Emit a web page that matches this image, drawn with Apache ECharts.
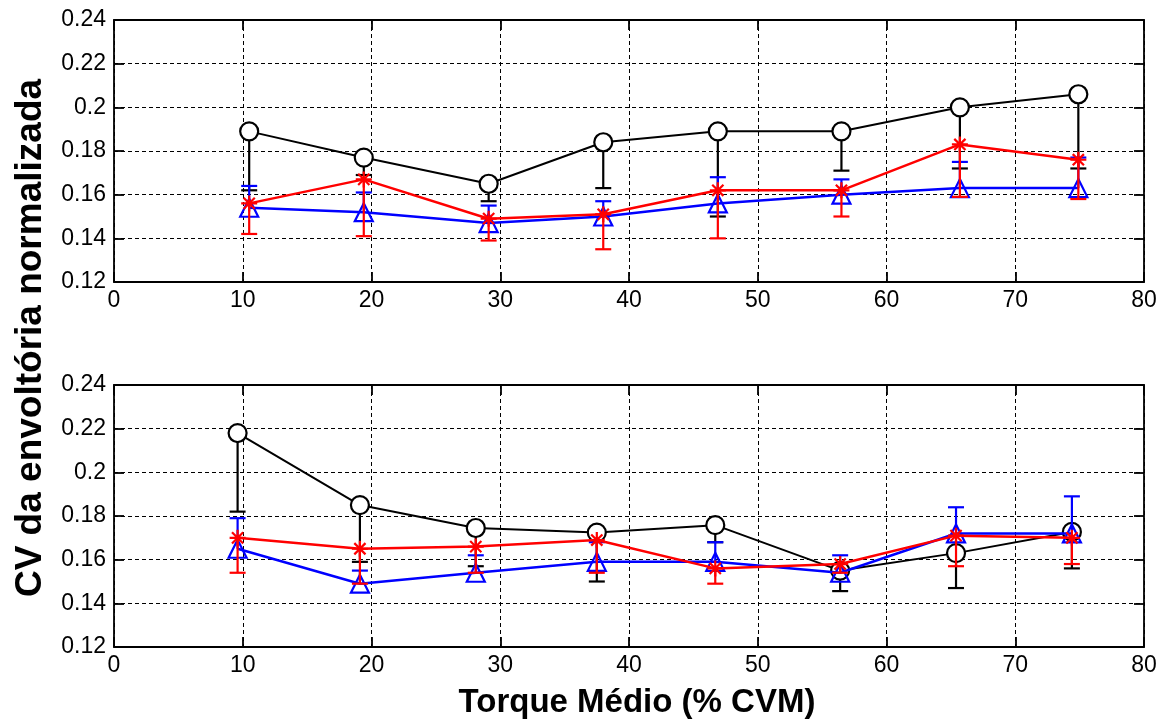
<!DOCTYPE html>
<html>
<head>
<meta charset="utf-8">
<script src="https://cdn.jsdelivr.net/npm/echarts@6/dist/echarts.min.js"></script>
<style>
html,body{margin:0;padding:0;background:#fff;}
#chart{width:1165px;height:722px;}
</style>
</head>
<body>
<div id="chart"></div>
<script>
// ---- data ----
const xTicks = [0, 10, 20, 30, 40, 50, 60, 70, 80];
const yTicks = [0.12, 0.14, 0.16, 0.18, 0.2, 0.22, 0.24];

const topX = [10.5, 19.4, 29.1, 38.0, 46.9, 56.5, 65.7, 74.9];
const topBlack = [0.189, 0.177, 0.165, 0.184, 0.189, 0.189, 0.200, 0.206];
const topBlackLow = [0.162, 0.169, 0.157, 0.163, 0.150, 0.171, 0.172, 0.172];
const topRed = [0.156, 0.167, 0.149, 0.151, 0.162, 0.162, 0.183, 0.176];
const topRedLow = [0.142, 0.141, 0.139, 0.135, 0.140, 0.150, 0.159, 0.158];
const topBlue = [0.154, 0.152, 0.147, 0.150, 0.156, 0.160, 0.163, 0.163];
const topBlueHigh = [0.164, 0.161, 0.155, 0.157, 0.168, 0.167, 0.175, 0.177];

const bottomX = [9.6, 19.1, 28.1, 37.5, 46.7, 56.4, 65.4, 74.4];
const bottomBlack = [0.218, 0.185, 0.1745, 0.1724, 0.1758, 0.155, 0.163, 0.1727];
const bottomBlackLow = [0.182, 0.159, 0.157, 0.150, 0.168, 0.1456, 0.147, 0.156];
const bottomRed = [0.170, 0.165, 0.166, 0.169, 0.156, 0.158, 0.171, 0.170];
const bottomRedLow = [0.154, 0.149, 0.154, 0.154, 0.149, 0.154, 0.157, 0.158];
const bottomBlue = [0.165, 0.149, 0.154, 0.159, 0.159, 0.154, 0.172, 0.172];
const bottomBlueHigh = [0.179, 0.155, 0.162, 0.168, 0.168, 0.162, 0.184, 0.189];

const xTitle = 'Torque Médio (% CVM)';
const yTitle = 'CV da envoltória normalizada';

// ---- styles ----
const FONT = 'Liberation Sans, Arial, Helvetica, sans-serif';
const STAR = 'path://M0,-10L0,10M-10,0L10,0M-7,-7L7,7M-7,7L7,-7';
const gridDefs = [
  {left: 114, top: 20, width: 1030, height: 262},
  {left: 114, top: 385, width: 1030, height: 262}
];

function pairs(xs, ys) { return xs.map((x, i) => [x, ys[i]]); }
function triples(xs, ys, es) { return xs.map((x, i) => [x, ys[i], es[i]]); }

const axisLineStyle = {color: '#000', width: 1.8};
const tickStyle = {show: true, inside: true, length: 10, lineStyle: {color: '#000', width: 1.8}};
const splitStyle = {show: true, lineStyle: {color: '#000', width: 1, type: [4, 3]}};

const xAxes = [], yAxes = [];
for (let g = 0; g < 2; g++) {
  xAxes.push({
    type: 'value', gridIndex: g, position: 'bottom', min: xTicks[0], max: xTicks[xTicks.length - 1], interval: 10,
    axisLine: {show: true, onZero: false, lineStyle: axisLineStyle},
    axisTick: tickStyle, splitLine: splitStyle,
    axisLabel: {show: true, color: '#000', fontSize: 23, fontFamily: FONT, margin: 7}
  });
  xAxes.push({
    type: 'value', gridIndex: g, position: 'top', min: xTicks[0], max: xTicks[xTicks.length - 1], interval: 10,
    axisLine: {show: true, onZero: false, lineStyle: axisLineStyle},
    axisTick: tickStyle, splitLine: {show: false}, axisLabel: {show: false}
  });
  yAxes.push({
    type: 'value', gridIndex: g, position: 'left', min: yTicks[0], max: yTicks[yTicks.length - 1], interval: 0.02,
    axisLine: {show: true, onZero: false, lineStyle: axisLineStyle},
    axisTick: tickStyle, splitLine: splitStyle,
    axisLabel: {show: true, color: '#000', fontSize: 23, fontFamily: FONT, margin: 8,
      formatter: v => String(+v.toFixed(2))}
  });
  yAxes.push({
    type: 'value', gridIndex: g, position: 'right', min: yTicks[0], max: yTicks[yTicks.length - 1], interval: 0.02,
    axisLine: {show: true, onZero: false, lineStyle: axisLineStyle},
    axisTick: tickStyle, splitLine: {show: false}, axisLabel: {show: false}
  });
}

function errSeries(g, data, color, z) {
  return {
    type: 'custom', xAxisIndex: g * 2, yAxisIndex: g * 2, z: z, silent: true,
    data: data,
    renderItem: function (params, api) {
      const p1 = api.coord([api.value(0), api.value(1)]);
      const p2 = api.coord([api.value(0), api.value(2)]);
      const st = {stroke: color, lineWidth: 2.2};
      return {
        type: 'group',
        children: [
          {type: 'line', shape: {x1: p1[0], y1: p1[1], x2: p2[0], y2: p2[1]}, style: st},
          {type: 'line', shape: {x1: p2[0] - 8, y1: p2[1], x2: p2[0] + 8, y2: p2[1]}, style: st}
        ]
      };
    }
  };
}

function lineSeries(g, data, color, symbol, size, width, z, fill) {
  return {
    type: 'line', xAxisIndex: g * 2, yAxisIndex: g * 2, z: z, data: data,
    symbol: symbol, symbolSize: size, showAllSymbol: true, animation: false,
    lineStyle: {color: color, width: width},
    itemStyle: {color: fill, borderColor: color, borderWidth: 2.2}
  };
}

const panels = [
  {x: topX, k: topBlack, kl: topBlackLow, r: topRed, rl: topRedLow, b: topBlue, bh: topBlueHigh},
  {x: bottomX, k: bottomBlack, kl: bottomBlackLow, r: bottomRed, rl: bottomRedLow, b: bottomBlue, bh: bottomBlueHigh}
];

const series = [];
panels.forEach((p, g) => {
  series.push(errSeries(g, triples(p.x, p.k, p.kl), '#000', 2));
  series.push(lineSeries(g, pairs(p.x, p.k), '#000', 'circle', 18, 2, 3, '#fff'));
  series.push(errSeries(g, triples(p.x, p.b, p.bh), '#0000ff', 4));
  series.push(lineSeries(g, pairs(p.x, p.b), '#0000ff', 'triangle', 18, 2.5, 5, 'rgba(255,255,255,0)'));
  series.push(errSeries(g, triples(p.x, p.r, p.rl), '#ff0000', 6));
  series.push(lineSeries(g, pairs(p.x, p.r), '#ff0000', STAR, 16, 2.5, 7, 'none'));
});

const chart = echarts.init(document.getElementById('chart'), null, {renderer: 'canvas'});
chart.setOption({
  animation: false,
  backgroundColor: '#fff',
  grid: gridDefs,
  xAxis: xAxes,
  yAxis: yAxes,
  series: series,
  graphic: [
    {type: 'text', x: 637, y: 703,
     style: {text: xTitle, font: 'bold 33px ' + FONT, fill: '#000', textAlign: 'center', textVerticalAlign: 'middle'}},
    {type: 'text', x: 31, y: 338, rotation: Math.PI / 2,
     style: {text: yTitle, font: 'bold 37px ' + FONT, fill: '#000', textAlign: 'center', textVerticalAlign: 'middle'}}
  ]
});
</script>
</body>
</html>
